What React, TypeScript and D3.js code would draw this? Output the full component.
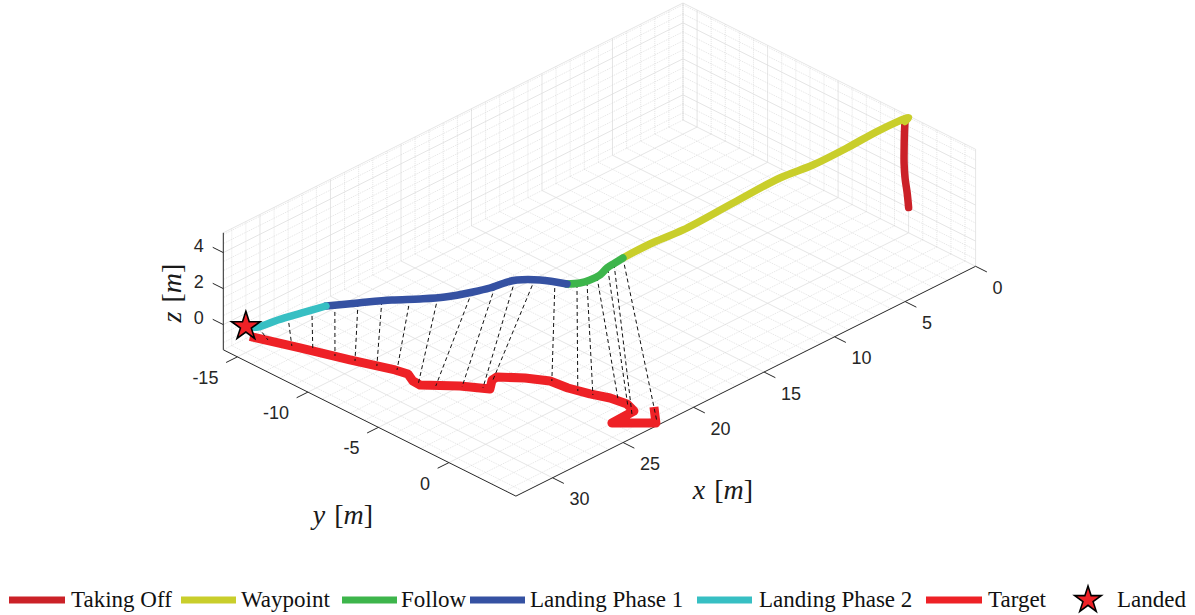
import React from 'react';
import * as d3 from 'd3';

// Axis limits (m) and tick values
const X_LIM = [0, 32.6];
const Y_LIM = [-16.0, 4.75];
const Z_LIM = [-1.4, 5.1];
const X_TICKS = [0, 5, 10, 15, 20, 25, 30];
const Y_TICKS = [-15, -10, -5, 0];
const Z_TICKS = [0, 2, 4];

// Drone trajectory, split by flight phase (x, y, z in m)
const takeoffX = [0.0, 0.05, 0.1, 0.1, 0.12, 0.1, 0.08];
const takeoffY = [0.0, -0.05, -0.15, -0.22, -0.2, -0.2, -0.18];
const takeoffZ = [0.0, 0.8, 1.6, 2.4, 3.2, 4.0, 4.75];

const waypointX = [0.08, 0.0, 1.9, 4.28, 6.63, 8.72, 12.09, 15.78, 17.88, 19.83];
const waypointY = [-0.18, 0.0, -0.14, -0.1, -0.16, -0.41, -0.36, -0.22, -0.46, -0.43];
const waypointZ = [4.75, 5.0, 5.0, 4.95, 4.9, 4.9, 4.85, 4.85, 4.8, 4.8];

const followX = [19.83, 20.41, 20.98, 21.66, 22.31, 22.81, 23.28];
const followY = [-0.43, -0.42, -0.41, -0.23, -0.29, -0.5, -0.95];
const followZ = [4.8, 4.75, 4.7, 4.65, 4.6, 4.55, 4.5];

const landing1X = [23.28, 23.82, 24.51, 24.88, 25.66, 26.28, 27.25, 27.89, 28.58, 29.48, 30.32];
const landing1Y = [-0.95, -2.32, -3.26, -3.6, -4.04, -4.61, -5.63, -6.76, -8.07, -9.57, -11.0];
const landing1Z = [4.5, 4.4, 4.3, 4.2, 4.0, 3.8, 3.5, 3.2, 2.9, 2.5, 2.1];

const landing2X = [30.32, 31.16, 31.87, 32.56, 32.5];
const landing2Y = [-11.0, -11.87, -12.86, -13.58, -14.5];
const landing2Z = [2.1, 1.7, 1.2, 0.8, 0.45];

const landed = [32.5, -14.5, 0.45];

// Ground target path (drawn on the ground plane)
const targetX = [30.71, 29.75, 28.83, 27.94, 27.77, 28.09, 28.12, 26.78, 25.92, 25.21, 24.82, 23.9, 23.23, 23.09, 22.73, 22.3, 22.13, 22.38, 24.01, 22.45, 21.39];
const targetY = [-16.0, -13.41, -10.79, -8.48, -7.74, -7.06, -6.53, -5.04, -3.77, -4.33, -4.37, -3.3, -2.2, -1.07, 0.13, 1.13, 2.16, 2.9, 2.97, 4.53, 3.33];
const targetZ = -1.4;

// Drone-to-target links at sampled instants
const linkDroneX = [32.56, 31.36, 30.65, 30.06, 29.48, 28.88, 28.12, 27.37, 26.32, 25.47, 24.55, 23.9, 23.43, 22.96, 22.52, 21.88, 21.02, 20.51, 19.83];
const linkDroneY = [-13.58, -12.66, -11.67, -10.63, -9.57, -8.48, -7.24, -6.01, -4.65, -3.87, -3.36, -2.6, -1.65, -0.56, -0.29, -0.22, -0.31, -0.38, -0.43];
const linkDroneZ = [0.8, 1.3, 1.8, 2.2, 2.5, 2.8, 3.1, 3.4, 3.8, 4.05, 4.28, 4.38, 4.45, 4.53, 4.57, 4.63, 4.7, 4.75, 4.8];
const linkTargetX = [30.32, 29.9, 29.51, 29.08, 28.72, 28.3, 27.87, 28.19, 27.63, 26.77, 26.1, 25.18, 23.16, 22.95, 22.7, 22.09, 22.31, 22.66, 22.34];
const linkTargetY = [-15.11, -13.84, -12.74, -11.6, -10.54, -9.41, -8.41, -6.6, -5.9, -4.9, -4.09, -4.3, -2.14, -0.51, 0.31, 1.48, 2.41, 3.04, 4.5];

const PHASE_LABELS = ['Taking Off', 'Waypoint', 'Follow', 'Landing Phase 1', 'Landing Phase 2', 'Target'];
const PHASE_COLORS = ['#cb2128', '#c9ce2b', '#3db54b', '#3551a2', '#37bfc3', '#ee2126'];
const LANDED_LABEL = 'Landed';

const W = 1195;
const H = 615;

// Screen frame of the axes box: back-bottom corner and edge vectors
const CORNER = [683, 120];
const EX = [-459.7, 229.8];
const EY = [292.6, 146.3];
const EZ = [0, -117];

const sx = d3.scaleLinear().domain(X_LIM).range([0, 1]);
const sy = d3.scaleLinear().domain(Y_LIM).range([0, 1]);
const sz = d3.scaleLinear().domain(Z_LIM).range([0, 1]);

function proj(x: number, y: number, z: number): [number, number] {
  const u = sx(x), v = sy(y), w = sz(z);
  return [
    CORNER[0] + u * EX[0] + v * EY[0] + w * EZ[0],
    CORNER[1] + u * EX[1] + v * EY[1] + w * EZ[1],
  ];
}

const pts = (xs: number[], ys: number[], zs: number[]) => xs.map((x, i) => proj(x, ys[i], zs[i]));

function starPath(r: number) {
  return d3.symbol(d3.symbolStar, (r * r) / 0.8908130915292852)() as string;
}

export default function App() {
  const smooth = d3.line<[number, number]>().curve(d3.curveCatmullRom.alpha(0.5));
  const straight = d3.line<[number, number]>();

  const [x0, x1] = X_LIM;
  const [y0, y1] = Y_LIM;
  const [z0, z1] = Z_LIM;

  const xGrid = d3.range(Math.ceil(x0), x1 + 1e-9, 1);
  const yGrid = d3.range(Math.ceil(y0), y1 + 1e-9, 1);
  const zGrid = d3.range(Math.ceil(z0 * 2) / 2, z1 + 1e-9, 0.5);

  type Seg = { a: [number, number]; b: [number, number]; major: boolean };
  const grid: Seg[] = [];
  xGrid.forEach((x) => {
    const major = X_TICKS.includes(x);
    grid.push({ a: proj(x, y0, z0), b: proj(x, y1, z0), major });
    grid.push({ a: proj(x, y0, z0), b: proj(x, y0, z1), major });
  });
  yGrid.forEach((y) => {
    const major = Y_TICKS.includes(y);
    grid.push({ a: proj(x0, y, z0), b: proj(x1, y, z0), major });
    grid.push({ a: proj(x0, y, z0), b: proj(x0, y, z1), major });
  });
  zGrid.forEach((z) => {
    const major = Z_TICKS.includes(z);
    grid.push({ a: proj(x0, y0, z), b: proj(x1, y0, z), major });
    grid.push({ a: proj(x0, y0, z), b: proj(x0, y1, z), major });
  });
  // outer edges of the back planes
  const edges: Seg[] = [
    { a: proj(x0, y0, z1), b: proj(x1, y0, z1), major: true },
    { a: proj(x0, y0, z1), b: proj(x0, y1, z1), major: true },
    { a: proj(x0, y1, z0), b: proj(x0, y1, z1), major: true },
  ];

  const axisColor = '#262626';
  const xAxis = [proj(x0, y1, z0), proj(x1, y1, z0)];
  const yAxis = [proj(x1, y0, z0), proj(x1, y1, z0)];
  const zAxis = [proj(x1, y0, z0), proj(x1, y0, z1)];

  const phases = [
    { xs: takeoffX, ys: takeoffY, zs: takeoffZ, color: PHASE_COLORS[0] },
    { xs: waypointX, ys: waypointY, zs: waypointZ, color: PHASE_COLORS[1] },
    { xs: followX, ys: followY, zs: followZ, color: PHASE_COLORS[2] },
    { xs: landing1X, ys: landing1Y, zs: landing1Z, color: PHASE_COLORS[3] },
    { xs: landing2X, ys: landing2Y, zs: landing2Z, color: PHASE_COLORS[4] },
  ];

  const targetPts = pts(targetX, targetY, targetX.map(() => targetZ));
  const links = linkDroneX.map((x, i) => ({
    a: proj(x, linkDroneY[i], linkDroneZ[i]),
    b: proj(linkTargetX[i], linkTargetY[i], targetZ),
  }));
  const landedPt = proj(landed[0], landed[1], landed[2]);

  const tickFont = { fontFamily: 'Liberation Sans, Arial, sans-serif', fontSize: 18, fill: axisColor };
  const labelFont = { fontFamily: 'Liberation Serif, Times New Roman, serif', fontSize: 28, fill: '#1a1a1a' };

  // legend layout
  const legendY = 600;
  const legendSwatch = [[9, 65], [181, 236], [342, 397], [470, 525], [697, 752], [926, 982]];
  const legendText = [71, 241, 401, 530, 759, 988];

  return (
    <svg width={W} height={H} style={{ position: 'absolute', left: 0, top: 0, background: '#fff' }}>
      <rect width={W} height={H} fill="#fff" />
      <g>
        {grid.map((s, i) => (
          <line
            key={i}
            x1={s.a[0]} y1={s.a[1]} x2={s.b[0]} y2={s.b[1]}
            stroke={s.major ? '#dedede' : '#d6d6d6'}
            strokeWidth={s.major ? 0.8 : 0.65}
            strokeDasharray={s.major ? undefined : '1 1'}
          />
        ))}
        {edges.map((s, i) => (
          <line key={'e' + i} x1={s.a[0]} y1={s.a[1]} x2={s.b[0]} y2={s.b[1]} stroke="#dedede" strokeWidth={0.8} />
        ))}
      </g>

      {/* axes */}
      <g stroke={axisColor} strokeWidth={1} fill="none">
        <line x1={xAxis[0][0]} y1={xAxis[0][1]} x2={xAxis[1][0]} y2={xAxis[1][1]} />
        <line x1={yAxis[0][0]} y1={yAxis[0][1]} x2={yAxis[1][0]} y2={yAxis[1][1]} />
        <line x1={zAxis[0][0]} y1={zAxis[0][1]} x2={zAxis[1][0]} y2={zAxis[1][1]} />
        {X_TICKS.map((t) => {
          const a = proj(t, y1, z0), b = proj(t, y1 + 0.8, z0);
          return <line key={'xt' + t} x1={a[0]} y1={a[1]} x2={b[0]} y2={b[1]} />;
        })}
        {Y_TICKS.map((t) => {
          const a = proj(x1, t, z0), b = proj(x1 + 0.8, t, z0);
          return <line key={'yt' + t} x1={a[0]} y1={a[1]} x2={b[0]} y2={b[1]} />;
        })}
        {Z_TICKS.map((t) => {
          const a = proj(x1, y0, t), b = proj(x1, y0 - 0.75, t);
          return <line key={'zt' + t} x1={a[0]} y1={a[1]} x2={b[0]} y2={b[1]} />;
        })}
      </g>
      <g style={tickFont}>
        {X_TICKS.map((t) => {
          const a = proj(t, y1, z0);
          return <text key={'xl' + t} x={a[0] + 17} y={a[1] + 21} dy="0.36em" textAnchor="start">{t}</text>;
        })}
        {Y_TICKS.map((t) => {
          const a = proj(x1, t, z0);
          return <text key={'yl' + t} x={a[0] - 19} y={a[1] + 20.5} dy="0.36em" textAnchor="end">{t}</text>;
        })}
        {Z_TICKS.map((t) => {
          const a = proj(x1, y0, t);
          return <text key={'zl' + t} x={a[0] - 19.5} y={a[1] - 7.5} dy="0.36em" textAnchor="end">{t}</text>;
        })}
      </g>

      {/* axis titles */}
      <g style={labelFont}>
        <text x={723} y={499} textAnchor="middle">
          <tspan fontStyle="italic">x</tspan><tspan dx={9}>[</tspan><tspan fontStyle="italic">m</tspan><tspan>]</tspan>
        </text>
        <text x={343} y={524} textAnchor="middle">
          <tspan fontStyle="italic">y</tspan><tspan dx={9}>[</tspan><tspan fontStyle="italic">m</tspan><tspan>]</tspan>
        </text>
        <text transform="translate(181,293) rotate(-90)" textAnchor="middle">
          <tspan fontStyle="italic">z</tspan><tspan dx={9}>[</tspan><tspan fontStyle="italic">m</tspan><tspan>]</tspan>
        </text>
      </g>

      {/* target path */}
      <path d={straight(targetPts) as string} fill="none" stroke={PHASE_COLORS[5]} strokeWidth={9}
        strokeLinejoin="round" strokeLinecap="butt" />

      {/* drone-to-target links */}
      <g stroke="#111" strokeWidth={1} strokeDasharray="4 3">
        {links.map((l, i) => (
          <line key={'l' + i} x1={l.a[0]} y1={l.a[1]} x2={l.b[0]} y2={l.b[1]} />
        ))}
      </g>

      {/* drone trajectory */}
      {phases.map((p, i) => (
        <path key={'p' + i} d={smooth(pts(p.xs, p.ys, p.zs)) as string} fill="none" stroke={p.color}
          strokeWidth={7.5} strokeLinejoin="round" strokeLinecap="round" />
      ))}

      <path d={starPath(15)} transform={`translate(${landedPt[0]},${landedPt[1]})`} fill={PHASE_COLORS[5]}
        stroke="#000" strokeWidth={1.6} strokeLinejoin="miter" />

      {/* legend */}
      <g style={{ fontFamily: 'Liberation Serif, Times New Roman, serif', fontSize: 23, fill: '#111' }}>
        {PHASE_LABELS.map((lab, i) => (
          <g key={'lg' + i}>
            <line x1={legendSwatch[i][0]} x2={legendSwatch[i][1]} y1={legendY} y2={legendY}
              stroke={PHASE_COLORS[i]} strokeWidth={7} />
            <text x={legendText[i]} y={legendY + 7}>{lab}</text>
          </g>
        ))}
        <path d={starPath(14)} transform={`translate(1088,${legendY})`} fill={PHASE_COLORS[5]} stroke="#000" strokeWidth={1.6} />
        <text x={1117} y={legendY + 7}>{LANDED_LABEL}</text>
      </g>
    </svg>
  );
}
